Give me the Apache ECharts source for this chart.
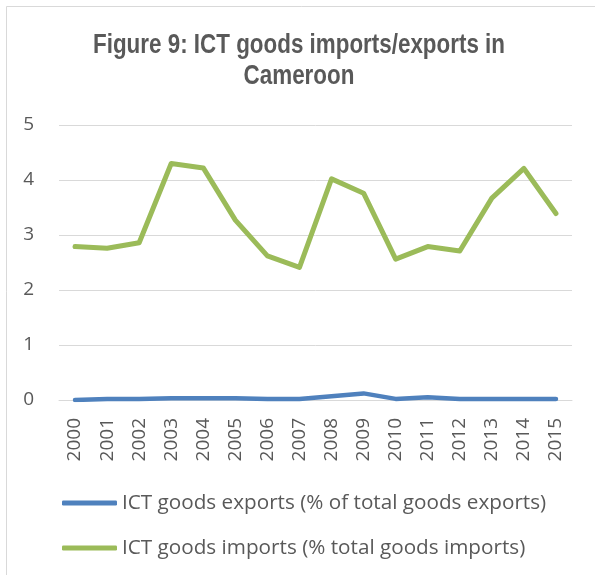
<!DOCTYPE html>
<html>
<head>
<meta charset="utf-8">
<script src="https://cdn.jsdelivr.net/npm/echarts@6/dist/echarts.min.js"></script>
<style>
  html, body { margin: 0; padding: 0; background: #fff; }
  #chart { width: 595px; height: 575px; }
</style>
</head>
<body>
<div id="chart"></div>
<script>
// Years on the category axis
const years = ['2000','2001','2002','2003','2004','2005','2006','2007',
               '2008','2009','2010','2011','2012','2013','2014','2015'];

// ICT goods exports (% of total goods exports)
const exportsShare = [0.00, 0.02, 0.02, 0.03, 0.03, 0.03, 0.02, 0.02,
                      0.07, 0.12, 0.02, 0.05, 0.02, 0.02, 0.02, 0.02];

// ICT goods imports (% total goods imports)
const importsShare = [2.79, 2.76, 2.86, 4.30, 4.22, 3.27, 2.62, 2.41,
                      4.02, 3.76, 2.56, 2.79, 2.71, 3.67, 4.21, 3.39];

const seriesNames = ['ICT goods exports (% of total goods exports)',
                     'ICT goods imports (% total goods imports)'];

const chartTitle = 'Figure 9: ICT goods imports/exports in\nCameroon';

const chart = echarts.init(document.getElementById('chart'), null, { renderer: 'canvas' });

const labelFont = '"Open Sans", Lato, "Liberation Sans", sans-serif';
const textGrey = '#595959';

chart.setOption({
  animation: false,
  backgroundColor: '#ffffff',
  graphic: [
    {
      // light frame around the chart area
      type: 'rect',
      shape: { x: 6.5, y: 6.5, width: 700, height: 700 },
      style: { fill: 'none', stroke: '#d9d9d9', lineWidth: 1 },
      silent: true
    },
    {
      // condensed bold title (horizontally squeezed sans)
      type: 'text',
      x: 299,
      y: 30,
      scaleX: 0.80,
      silent: true,
      style: {
        text: chartTitle,
        align: 'center',
        verticalAlign: 'top',
        fontFamily: '"Liberation Sans", Arial, sans-serif',
        fontWeight: 'bold',
        fontSize: 28,
        lineHeight: 31,
        fill: textGrey
      }
    }
  ],
  legend: {
    orient: 'vertical',
    left: 62,
    top: 491,
    padding: 0,
    itemWidth: 55,
    itemHeight: 5,
    itemGap: 21,
    icon: 'roundRect',
    textStyle: { fontFamily: labelFont, fontSize: 20.7, lineHeight: 24, color: textGrey },
    data: seriesNames
  },
  grid: { left: 59, right: 23, top: 125, bottom: 175 },
  xAxis: {
    type: 'category',
    data: years,
    boundaryGap: true,
    axisLine: { lineStyle: { color: '#d9d9d9', width: 1 } },
    axisTick: { show: false },
    axisLabel: {
      rotate: 90,
      margin: 18,
      fontFamily: labelFont,
      fontSize: 19,
      color: textGrey
    }
  },
  yAxis: {
    type: 'value',
    min: 0,
    max: 5,
    interval: 1,
    axisLine: { show: false },
    axisTick: { show: false },
    splitLine: { lineStyle: { color: '#d9d9d9', width: 1 } },
    axisLabel: {
      margin: 25,
      fontFamily: labelFont,
      fontSize: 19,
      color: textGrey
    }
  },
  series: [
    {
      name: seriesNames[0],
      type: 'line',
      data: exportsShare,
      showSymbol: false,
      symbol: 'none',
      color: '#4f81bd',
      lineStyle: { width: 4.5, color: '#4f81bd', cap: 'round', join: 'round' }
    },
    {
      name: seriesNames[1],
      type: 'line',
      data: importsShare,
      showSymbol: false,
      symbol: 'none',
      color: '#9bbb59',
      lineStyle: { width: 5, color: '#9bbb59', cap: 'round', join: 'round' }
    }
  ]
});
</script>
</body>
</html>
